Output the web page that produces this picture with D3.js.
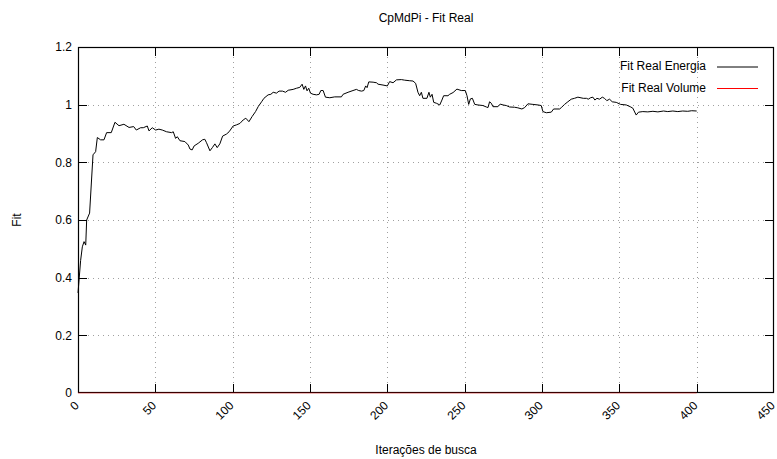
<!DOCTYPE html>
<html><head><meta charset="utf-8">
<script src="https://cdn.jsdelivr.net/npm/d3@7"></script>
<style>body{margin:0;background:#fff}svg{display:block}text{font-family:"Liberation Sans",Arial,Helvetica,sans-serif;font-size:12px;fill:#000}</style>
</head><body><svg id="c" width="777" height="459"></svg>
<script>
const title = "CpMdPi - Fit Real";
const xLabel = "Iterações de busca";
const yLabel = "Fit";
const seriesNames = ["Fit Real Energia", "Fit Real Volume"];
const xTicks = [0,50,100,150,200,250,300,350,400,450];
const yTicks = [0,0.2,0.4,0.6,0.8,1,1.2];
const yTickLabels = ["0","0.2","0.4","0.6","0.8","1","1.2"];
const energiaIter = [0,1.7,2.8,3.9,5,5.6,7.5,9.7,11.4,12.5,14.6,16.8,18.5,21.5,23.9,26.5,29.7,33,36,37.7,40.5,42.2,44.8,45.9,48,50.2,52.3,54.5,57.3,60.5,61.6,63.1,64.2,65.9,69.1,71.3,72.4,73.8,75.1,77.7,80.5,82,83.1,85.3,87,88.5,90,91.7,93.5,96,97.7,100.3,102.5,104.7,106.8,108.5,110.5,112.6,114.8,116.5,118.7,120.2,122.9,124.7,126.2,128.3,130,132.2,134.2,135.9,139.1,141.3,143.4,144.9,146,147.1,148.1,149.2,150.3,152,154.2,155.9,157,158.5,160,162.8,166,170.3,171.4,174.6,177.8,180,181.5,183.3,184.8,186,186.9,188,190.8,193,194,197.2,200,201.5,203.7,205.9,209.1,211.2,214.5,216.6,218.3,219.8,220.9,222,223,225.6,226.9,227.8,228.9,230,231.7,233.9,235.3,236.4,239.2,240.3,242.5,245,247.8,250.4,251.5,252.6,253.7,255,256.5,258.6,261.8,264,265.1,266.1,267.2,268.3,271.5,273,274.8,276.9,279,282.3,284.4,287,288.8,290.9,294.1,297.4,299.5,300.6,302.8,306,307.5,311.4,312.5,314.6,316.7,318.9,321,323.2,326.7,328.8,329.9,331.4,332.9,334.2,335.5,337.2,339,340.4,341.9,343.7,345.4,348,350.8,354.5,357,358.7,360.9,362.4,365.2,368.4,371.7,374.9,378.6,381.3,384.6,387.8,391,394.2,396.8,400];
const energiaFit = [0.347,0.46,0.507,0.525,0.513,0.60,0.624,0.826,0.837,0.886,0.878,0.878,0.903,0.903,0.939,0.927,0.932,0.921,0.924,0.912,0.920,0.920,0.926,0.909,0.920,0.912,0.915,0.912,0.906,0.903,0.906,0.883,0.889,0.875,0.872,0.860,0.846,0.843,0.857,0.866,0.878,0.880,0.868,0.840,0.852,0.864,0.851,0.864,0.891,0.898,0.906,0.926,0.930,0.935,0.947,0.953,0.941,0.959,0.976,0.993,1.010,1.022,1.034,1.036,1.043,1.040,1.047,1.047,1.043,1.050,1.053,1.057,1.060,1.071,1.053,1.065,1.048,1.057,1.040,1.036,1.034,1.036,1.049,1.049,1.026,1.024,1.027,1.027,1.036,1.043,1.049,1.053,1.049,1.047,1.049,1.065,1.059,1.079,1.078,1.076,1.071,1.068,1.065,1.080,1.076,1.086,1.087,1.085,1.083,1.082,1.074,1.043,1.031,1.043,1.022,1.022,1.043,1.026,1.036,1.008,1.005,0.999,1.016,1.031,1.031,1.036,1.042,1.054,1.049,1.049,1.031,1.001,1.020,1.022,1.001,0.999,0.997,0.992,0.990,1.010,1.005,0.993,0.993,1.002,0.999,0.997,0.992,0.991,0.989,0.985,0.990,1.003,1.001,0.999,0.997,0.976,0.972,0.974,0.985,0.985,0.990,1.001,1.010,1.019,1.022,1.026,1.022,1.022,1.019,1.024,1.026,1.016,1.022,1.019,1.026,1.022,1.014,1.019,1.010,1.008,1.001,0.999,0.993,0.988,0.964,0.974,0.976,0.975,0.977,0.975,0.978,0.976,0.978,0.976,0.978,0.977,0.979,0.978];
const volumeIter = [0,400];
const volumeFit = [0,0];

const svg = d3.select("#c");
const L=78, R=774, T=47, B=393;
const x = d3.scaleLinear().domain([0,450]).range([L,R]);
const y = d3.scaleLinear().domain([0,1.2]).range([B,T]);

// grid
const g = svg.append("g");
g.selectAll(".vg").data(xTicks.slice(1,-1)).enter().append("line")
 .attr("x1",d=>Math.round(x(d))+0.5).attr("x2",d=>Math.round(x(d))+0.5).attr("y1",T).attr("y2",B)
 .attr("stroke","#a0a0a0").attr("stroke-dasharray","1,4");
g.selectAll(".hg").data(yTicks.slice(1,-1)).enter().append("line")
 .attr("y1",d=>Math.round(y(d))+0.5).attr("y2",d=>Math.round(y(d))+0.5).attr("x1",L).attr("x2",R)
 .attr("stroke","#a0a0a0").attr("stroke-dasharray","1,4");

// axes
const tl=9;
const xb = d3.axisBottom(x).tickValues(xTicks).tickSize(0).tickFormat(d3.format("d"));
const ax = svg.append("g").attr("transform",`translate(0,${B})`).call(xb);
ax.select(".domain").remove();
ax.selectAll("text").attr("text-anchor","end").attr("dy",null).attr("y",0)
 .attr("transform",d=>`translate(-1,11) rotate(-45)`).attr("dominant-baseline","middle").style("font-size","12px").style("font-family",null);
const yl = d3.axisLeft(y).tickValues(yTicks).tickSize(0).tickPadding(6).tickFormat((d,i)=>yTickLabels[i]);
const ay = svg.append("g").attr("transform",`translate(${L},0)`).call(yl);
ay.select(".domain").remove();
ay.selectAll("text").style("font-size","12px").style("font-family",null);

// tick marks (mirrored, inward)
const tk = svg.append("g").attr("stroke","#000").attr("stroke-width",1);
xTicks.slice(1,-1).forEach(d=>{const px=Math.round(x(d))+0.5;
 tk.append("line").attr("x1",px).attr("x2",px).attr("y1",B).attr("y2",B-tl);
 tk.append("line").attr("x1",px).attr("x2",px).attr("y1",T).attr("y2",T+tl);});
yTicks.slice(1,-1).forEach(d=>{const py=Math.round(y(d))+0.5;
 tk.append("line").attr("y1",py).attr("y2",py).attr("x1",L).attr("x2",L+tl);
 tk.append("line").attr("y1",py).attr("y2",py).attr("x1",R).attr("x2",R-tl);});

// border
svg.append("rect").attr("x",L+0.5).attr("y",T+0.5).attr("width",R-L-1).attr("height",B-T-1)
 .attr("fill","none").attr("stroke","#000").attr("stroke-width",1.2);

// lines
const line = d3.line().x(d=>x(d[0])).y(d=>y(d[1]));
svg.append("path").datum(volumeIter.map((v,i)=>[v,volumeFit[i]])).attr("d",line)
 .attr("fill","none").attr("stroke","#ff0000").attr("stroke-opacity",0.45).attr("stroke-width",1.2);
svg.append("path").datum(energiaIter.map((v,i)=>[v,energiaFit[i]])).attr("d",line)
 .attr("fill","none").attr("stroke","#000").attr("stroke-width",1);

// legend
const colors=["#000","#ff0000"];
seriesNames.forEach((n,i)=>{const yy=67+i*21.5;
 svg.append("text").attr("x",706).attr("y",yy).attr("text-anchor","end").attr("dominant-baseline","middle").text(n);
 svg.append("line").attr("x1",717).attr("x2",758).attr("y1",yy).attr("y2",yy).attr("stroke",colors[i]).attr("stroke-width",1);});

// titles
svg.append("text").attr("x",(L+R)/2).attr("y",22).attr("text-anchor","middle").text(title);
svg.append("text").attr("x",(L+R)/2).attr("y",454).attr("text-anchor","middle").text(xLabel);
svg.append("text").attr("transform",`translate(21,${(T+B)/2}) rotate(-90)`).attr("text-anchor","middle").text(yLabel);
</script></body></html>
